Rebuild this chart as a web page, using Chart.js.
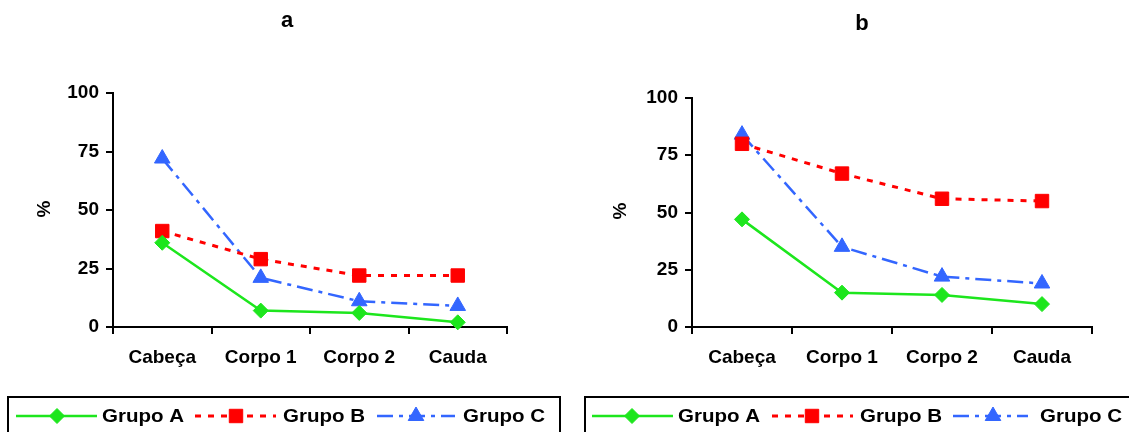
<!DOCTYPE html>
<html>
<head>
<meta charset="utf-8">
<script src="https://cdn.jsdelivr.net/npm/chart.js@4.4.0/dist/chart.umd.min.js"></script>
<style>
  html, body { margin: 0; padding: 0; background: #fff; overflow: hidden; }
  #wrapA { position: absolute; left: 0; top: 0; width: 575px; height: 432px; }
  #wrapB { position: absolute; left: 575px; top: 0; width: 554px; height: 432px; }
</style>
</head>
<body>
<div id="wrapA"><canvas id="chartA" width="575" height="432"></canvas></div>
<div id="wrapB"><canvas id="chartB" width="554" height="432"></canvas></div>
<script>
// ---- data ----
const categories = ['Cabeça', 'Corpo 1', 'Corpo 2', 'Cauda'];
const seriesNames = ['Grupo A', 'Grupo B', 'Grupo C'];
const yTicks = [0, 25, 50, 75, 100];

const panelA_grupoA = [36, 7, 6, 2];
const panelA_grupoB = [41, 29, 22, 22];
const panelA_grupoC = [72, 21, 11, 9];

const panelB_grupoA = [47, 15, 14, 10];
const panelB_grupoB = [80, 67, 56, 55];
const panelB_grupoC = [84, 35, 22, 19];

const titleA = 'a';
const titleB = 'b';
const yAxisTitle = '%';

// ---- styles ----
const FONT = '"Liberation Sans", Arial, sans-serif';
const GREEN = '#1de61d';
const RED = '#ff0000';
const BLUE = '#3366ff';

function makeDatasets(a, b, c) {
  return [
    { label: seriesNames[0], data: a, borderColor: GREEN, backgroundColor: GREEN,
      borderWidth: 2.5, pointStyle: 'rectRot', pointRadius: 7.5, pointHoverRadius: 7.5,
      pointBorderWidth: 1, pointBorderColor: GREEN, pointBackgroundColor: GREEN, borderDash: [] },
    { label: seriesNames[1], data: b, borderColor: RED, backgroundColor: RED,
      borderWidth: 3, pointStyle: 'rect', pointRadius: 9.5, pointHoverRadius: 9.5,
      pointBorderWidth: 1, pointBorderColor: RED, pointBackgroundColor: RED, borderDash: [6, 7] },
    { label: seriesNames[2], data: c, borderColor: BLUE, backgroundColor: BLUE,
      borderWidth: 2.5, pointStyle: 'triangle', pointRadius: 9, pointHoverRadius: 9,
      pointBorderWidth: 1, pointBorderColor: BLUE, pointBackgroundColor: BLUE, borderDash: [16, 6, 4, 6] }
  ];
}

const decorPlugin = {
  id: 'decor',
  afterDraw(chart, args, opts) {
    const ctx = chart.ctx;
    ctx.save();
    // title
    ctx.fillStyle = '#000';
    ctx.font = 'bold 22px ' + FONT;
    ctx.textAlign = 'center';
    ctx.textBaseline = 'middle';
    ctx.fillText(opts.title, opts.titleX, opts.titleY);
    // y axis title
    ctx.font = 'bold 19px ' + FONT;
    ctx.save();
    ctx.translate(opts.yTitleX, opts.yTitleY);
    ctx.rotate(-Math.PI / 2);
    ctx.fillText(yAxisTitle, 0, 0);
    ctx.restore();
    // legend box
    ctx.lineWidth = 2;
    ctx.strokeStyle = '#000';
    ctx.strokeRect(opts.boxLeft, opts.boxTop, opts.boxRight - opts.boxLeft, 80);
    // legend items
    const ly = 416;
    const items = opts.items;
    chart.data.datasets.forEach((ds, i) => {
      const it = items[i];
      ctx.save();
      ctx.strokeStyle = ds.borderColor;
      ctx.lineWidth = ds.borderWidth;
      ctx.setLineDash(ds.borderDash || []);
      ctx.beginPath();
      ctx.moveTo(it.x1, ly);
      ctx.lineTo(it.x2, ly);
      ctx.stroke();
      ctx.restore();
      ctx.save();
      ctx.fillStyle = ds.pointBackgroundColor;
      ctx.strokeStyle = ds.pointBorderColor;
      ctx.lineWidth = 1;
      Chart.helpers.drawPoint(ctx, { pointStyle: ds.pointStyle, radius: ds.pointRadius, borderWidth: 1, rotation: 0 }, it.m, ly);
      ctx.restore();
      ctx.save();
      ctx.fillStyle = '#000';
      ctx.font = 'bold 19px ' + FONT;
      ctx.textAlign = 'left';
      ctx.textBaseline = 'middle';
      ctx.translate(it.t, ly + 1);
      ctx.scale(1.08, 1);
      ctx.fillText(ds.label, 0, 0);
      ctx.restore();
    });
    ctx.restore();
  }
};

function makeChart(id, datasets, cfg) {
  return new Chart(document.getElementById(id), {
    type: 'line',
    data: { labels: categories, datasets: datasets },
    options: {
      responsive: false,
      animation: false,
      layout: { padding: { left: 0, right: cfg.padRight, top: cfg.padTop, bottom: 0 } },
      plugins: {
        legend: { display: false },
        title: { display: false },
        tooltip: { enabled: false },
        decor: cfg.decor
      },
      elements: { line: { tension: 0 }, point: { hitRadius: 0 } },
      datasets: { line: { clip: false } },
      scales: {
        x: {
          type: 'category',
          offset: true,
          grid: { offset: true, drawOnChartArea: false, drawTicks: true, tickLength: 7,
                  color: '#000', lineWidth: 2 },
          border: { display: true, color: '#000', width: 2 },
          ticks: { color: '#000', font: { family: FONT, size: 19, weight: 'bold' }, padding: 12,
                   maxRotation: 0, autoSkip: false },
          afterFit(scale) { scale.height = 105; }
        },
        y: {
          min: 0, max: 100,
          afterBuildTicks(scale) { scale.ticks = yTicks.map(v => ({ value: v })); },
          grid: { drawOnChartArea: false, drawTicks: true, tickLength: 7, color: '#000', lineWidth: 2 },
          border: { display: true, color: '#000', width: 2 },
          ticks: { color: '#000', font: { family: FONT, size: 19, weight: 'bold' }, padding: 7 },
          afterFit(scale) { scale.width = cfg.yWidth; }
        }
      }
    },
    plugins: [decorPlugin]
  });
}

makeChart('chartA', makeDatasets(panelA_grupoA, panelA_grupoB, panelA_grupoC), {
  padRight: 575 - 507, padTop: 93, yWidth: 113,
  decor: {
    title: titleA, titleX: 287, titleY: 21, yTitleX: 45, yTitleY: 209,
    boxLeft: 8, boxTop: 397, boxRight: 560,
    items: [ { x1: 16, x2: 97, m: 57, t: 102 }, { x1: 195, x2: 276, m: 236, t: 283 }, { x1: 377, x2: 455, m: 416, t: 463 } ]
  }
});

makeChart('chartB', makeDatasets(panelB_grupoA, panelB_grupoB, panelB_grupoC), {
  padRight: 554 - 517, padTop: 98, yWidth: 117,
  decor: {
    title: titleB, titleX: 287, titleY: 24, yTitleX: 46, yTitleY: 211,
    boxLeft: 10, boxTop: 397, boxRight: 600,
    items: [ { x1: 17, x2: 98, m: 57, t: 103 }, { x1: 197, x2: 278, m: 237, t: 285 }, { x1: 378, x2: 453, m: 418, t: 465 } ]
  }
});
</script>
</body>
</html>
